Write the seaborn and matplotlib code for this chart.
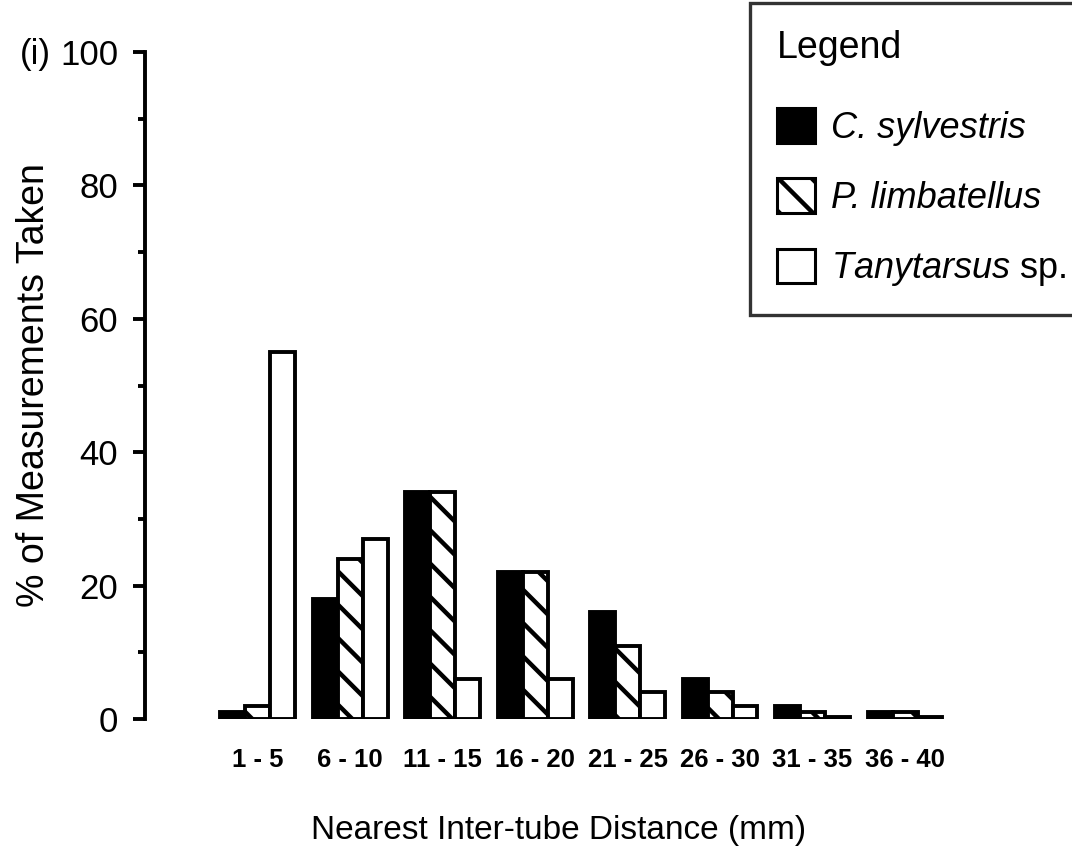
import matplotlib
matplotlib.use("Agg")
import matplotlib.pyplot as plt
import seaborn as sns
import pandas as pd
from matplotlib.patches import Patch
from matplotlib.ticker import MultipleLocator

categories = ["1 - 5", "6 - 10", "11 - 15", "16 - 20", "21 - 25", "26 - 30", "31 - 35", "36 - 40"]
c_sylvestris = [1, 18, 34, 22, 16, 6, 2, 1]
p_limbatellus = [2, 24, 34, 22, 11, 4, 1, 1]
tanytarsus = [55, 27, 6, 6, 4, 2, 0.3, 0.3]
species = ["C. sylvestris", "P. limbatellus", "Tanytarsus sp."]

rows = []
for sp, vals in zip(species, [c_sylvestris, p_limbatellus, tanytarsus]):
    for cat, v in zip(categories, vals):
        rows.append({"cat": cat, "species": sp, "value": v})
df = pd.DataFrame(rows)

sns.set_theme(style="white")
plt.rcParams["font.family"] = ["Liberation Sans", "DejaVu Sans"]
plt.rcParams["mathtext.fontset"] = "custom"
plt.rcParams["mathtext.rm"] = "Liberation Sans"
plt.rcParams["mathtext.it"] = "Liberation Sans:italic"
plt.rcParams["hatch.linewidth"] = 3.2
plt.rcParams["hatch.color"] = "black"
for k in ["text.color", "axes.labelcolor", "xtick.color", "ytick.color"]:
    plt.rcParams[k] = "black"

fig = plt.figure(figsize=(10.72, 8.51), dpi=100)
ax = fig.add_axes([0.135, 0.155, 0.761, 0.784])

sns.barplot(data=df, x="cat", y="value", hue="species", order=categories,
            hue_order=species, palette=["black", "white", "white"],
            width=0.81, saturation=1, edgecolor="black", linewidth=2.8,
            legend=False, ax=ax)

hatches = ["", "\\", ""]
faces = ["black", "white", "white"]
for cont, h, fc in zip(ax.containers, hatches, faces):
    for bar in cont:
        bar.set_facecolor(fc)
        bar.set_hatch(h)
        bar.set_edgecolor("black")

ax.set_xlim(-1.22, 7.6)
ax.set_ylim(0, 100)
for s in ["top", "right", "bottom"]:
    ax.spines[s].set_visible(False)
ax.spines["left"].set_linewidth(2.8)
ax.spines["left"].set_color("black")

ax.yaxis.set_major_locator(MultipleLocator(20))
ax.yaxis.set_minor_locator(MultipleLocator(10))
ax.tick_params(axis="y", which="major", left=True, length=9, width=2.8,
               labelsize=25, pad=10, color="black")
ax.tick_params(axis="y", which="minor", left=True, length=5, width=2.8, color="black")
ax.tick_params(axis="x", bottom=False, labelsize=18.5, pad=15)
for lbl in ax.get_xticklabels():
    lbl.set_fontweight("bold")

ax.set_xlabel("Nearest Inter-tube Distance (mm)", fontsize=24)
ax.xaxis.set_label_coords(0.507, -0.143)
ax.set_ylabel("% of Measurements Taken", fontsize=27)
ax.yaxis.set_label_coords(-0.114, 0.50)
fig.text(0.019, 0.936, "(i)", fontsize=25, va="center", ha="left")

handles = [Patch(facecolor="black", edgecolor="black", linewidth=2.2),
           Patch(facecolor="white", edgecolor="black", hatch="\\", linewidth=2.2),
           Patch(facecolor="white", edgecolor="black", linewidth=2.2)]
labels = ["C. sylvestris", "P. limbatellus", r"$\it{Tanytarsus}$ sp."]
leg = fig.legend(handles, labels, title="Legend", loc="upper left",
                 bbox_to_anchor=(0.6996, 0.9965), borderaxespad=0,
                 fontsize=26, title_fontsize=27,
                 frameon=True, fancybox=False, edgecolor="black",
                 handlelength=1.05, handleheight=1.1, handletextpad=0.45,
                 labelspacing=0.9, borderpad=0.75, alignment="left")
for t in leg.get_texts()[:2]:
    t.set_fontstyle("italic")
leg.get_frame().set_linewidth(2.4)
leg._legend_box.sep = 0.9 * 26 + 7

fig.savefig("out.png", dpi=100, facecolor="white")
